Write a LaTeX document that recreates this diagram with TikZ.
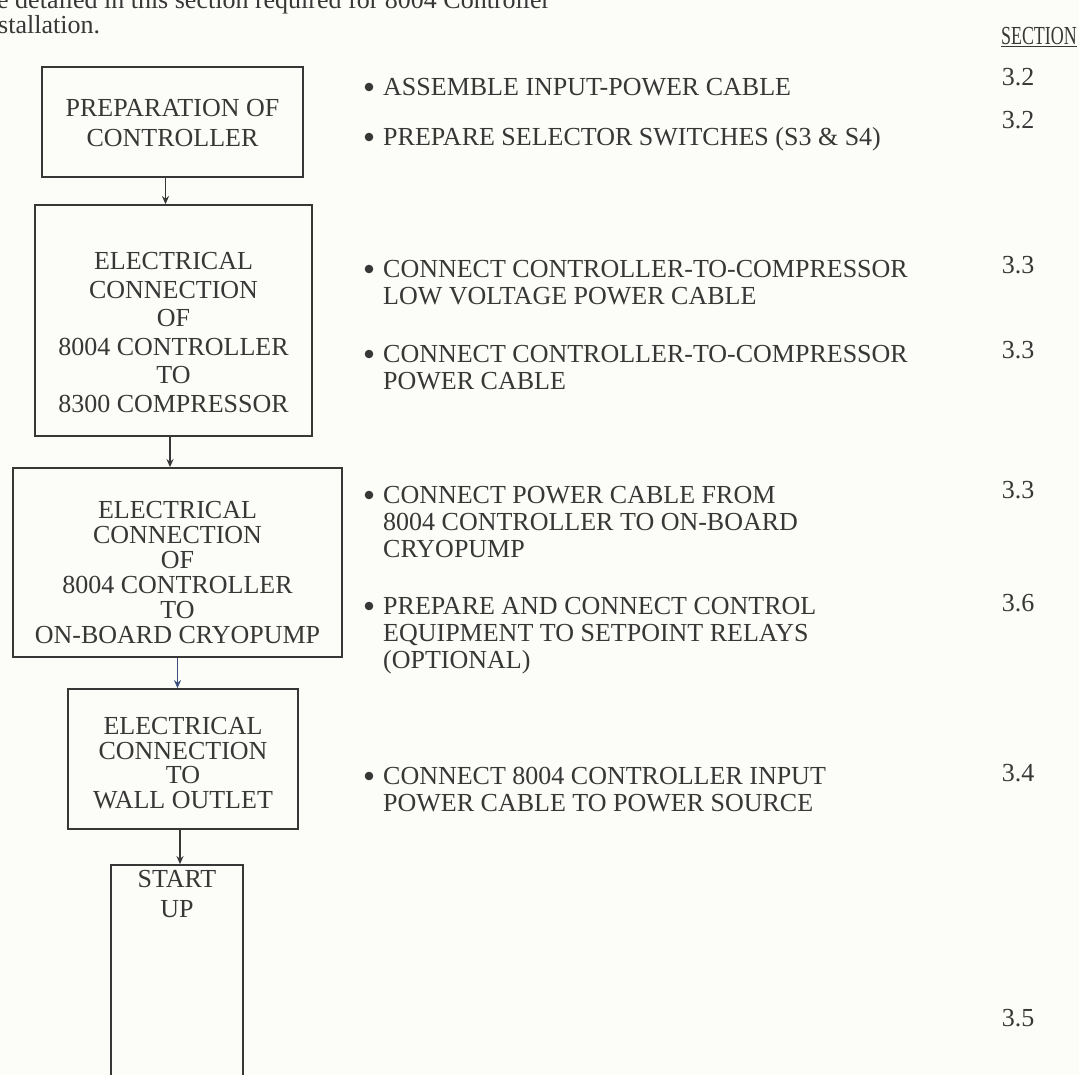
\documentclass[tikz,border=0pt]{standalone}
\usepackage{fontspec}
\setmainfont{Liberation Serif}
\usetikzlibrary{arrows.meta,positioning}
\definecolor{ink}{RGB}{55,55,55}
\definecolor{paper}{RGB}{252,252,248}
\definecolor{bluearr}{RGB}{60,78,125}

\begin{document}
\begin{tikzpicture}[x=1pt,y=-1pt,
  flowbox/.style={draw=ink,line width=1.8pt,inner sep=0pt},
  boxtext/.style={inner sep=0pt,align=center,text=ink,font=\fontsize{26}{#1}\selectfont},
  boxtext/.default=30,
  item/.style={anchor=north west,inner sep=0pt,align=left,text=ink,font=\fontsize{26}{27}\selectfont},
  secnum/.style={anchor=base,inner sep=0pt,text=ink,font=\fontsize{26}{27}\selectfont},
  arr/.style={draw=ink,line width=1.8pt,-{Stealth[length=8pt,width=7pt]}}]
  \fill[paper] (0,0) rectangle (1079,1075);
  \useasboundingbox (0,0) rectangle (1079,1075);

  % cut-off lines of the page text
  \node[anchor=base west,inner sep=0pt,text=ink,font=\fontsize{26}{28}\selectfont] (intro) at (-3,9) {e detailed in this section required for 8004 Controller};
  \node[anchor=base west,inner sep=0pt,text=ink,font=\fontsize{26}{28}\selectfont] (intro2) at (-2,34) {stallation.};
  \node[anchor=base east,inner sep=0pt,text=ink,font=\fontsize{26}{28}\selectfont] (sechead) at (1077,45) {\scalebox{0.69}[1]{\underline{SECTION}}};

  % flow chart
  \node[flowbox,minimum width=261pt,minimum height=110pt] (prep) at (172.5,122) {};
  \node[boxtext] (preptxt) at ([yshift=-1pt]prep.center) {PREPARATION OF\\CONTROLLER};
  \node[flowbox,minimum width=277pt,minimum height=231pt] (comp) at (173.5,320.5) {};
  \node[boxtext=28.5] (comptxt) at ([yshift=-12pt]comp.center) {ELECTRICAL\\CONNECTION\\OF\\8004 CONTROLLER\\TO\\8300 COMPRESSOR};
  \node[flowbox,minimum width=329pt,minimum height=189pt] (cryo) at (177.5,562.5) {};
  \node[boxtext=25] (cryotxt) at ([yshift=-10pt]cryo.center) {ELECTRICAL\\CONNECTION\\OF\\8004 CONTROLLER\\TO\\ON-BOARD CRYOPUMP};
  \node[flowbox,minimum width=230pt,minimum height=140pt] (wall) at (183,759) {};
  \node[boxtext=24.5] (walltxt) at ([yshift=-4pt]wall.center) {ELECTRICAL\\CONNECTION\\TO\\WALL OUTLET};
  \node[flowbox,minimum width=132pt,minimum height=225pt] (start) at (177,977.5) {};
  \node[boxtext=30,anchor=north] (starttxt) at ([yshift=-6pt]start.north) {START\\UP};

  \draw[arr] ([xshift=-7pt]prep.south) -- ([xshift=-7pt]prep.south |- comp.north);
  \draw[arr] ([xshift=-3.5pt]comp.south) -- ([xshift=-3.5pt]comp.south |- cryo.north);
  \draw[arr,draw=bluearr] (cryo.south) -- (cryo.south |- wall.north);
  \draw[arr] ([xshift=-3pt]wall.south) -- ([xshift=-3pt]wall.south |- start.north);

  % steps
  \foreach \y in {87,137,269,354,495,606,776}
    \fill[ink] (369,\y) circle (4.3pt);
  \node[item] (s1) at (383,76.7) {\strut ASSEMBLE INPUT-POWER CABLE};
  \node[item] (s2) at (383,126.7) {\strut PREPARE SELECTOR SWITCHES (S3 \& S4)};
  \node[item] (s3) at (383,258.7) {\strut CONNECT CONTROLLER-TO-COMPRESSOR\\LOW VOLTAGE POWER CABLE};
  \node[item] (s4) at (383,343.7) {\strut CONNECT CONTROLLER-TO-COMPRESSOR\\POWER CABLE};
  \node[item] (s5) at (383,484.7) {\strut CONNECT POWER CABLE FROM\\8004 CONTROLLER TO ON-BOARD\\CRYOPUMP};
  \node[item] (s6) at (383,595.7) {\strut PREPARE AND CONNECT CONTROL\\EQUIPMENT TO SETPOINT RELAYS\\(OPTIONAL)};
  \node[item] (s7) at (383,765.7) {\strut CONNECT 8004 CONTROLLER INPUT\\POWER CABLE TO POWER SOURCE};

  % section numbers
  \node[secnum] (n1) at (1018,85.8) {3.2};
  \node[secnum] (n2) at (1018,128.8) {3.2};
  \node[secnum] (n3) at (1018,273.8) {3.3};
  \node[secnum] (n4) at (1018,358.8) {3.3};
  \node[secnum] (n5) at (1018,498.8) {3.3};
  \node[secnum] (n6) at (1018,611.8) {3.6};
  \node[secnum] (n7) at (1018,781.8) {3.4};
  \node[secnum] (n8) at (1018,1026.8) {3.5};
\end{tikzpicture}
\end{document}
